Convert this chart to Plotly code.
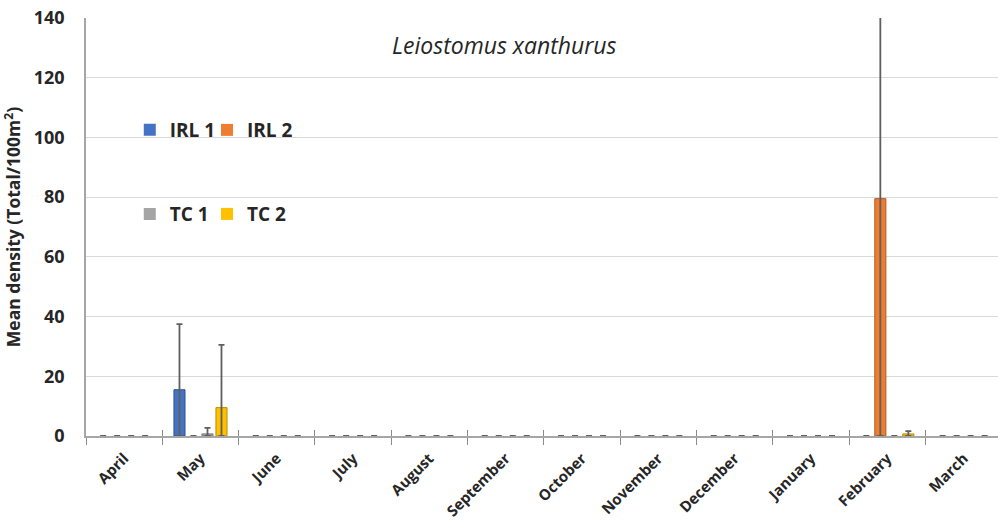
import plotly.graph_objects as go

months = ["April", "May", "June", "July", "August", "September", "October",
          "November", "December", "January", "February", "March"]

irl1 = [0, 15.5, 0, 0, 0, 0, 0, 0, 0, 0, 0, 0]
irl1_err = [0, 22, 0, 0, 0, 0, 0, 0, 0, 0, 0, 0]
irl2 = [0, 0, 0, 0, 0, 0, 0, 0, 0, 0, 79.5, 0]
irl2_err = [0, 0, 0, 0, 0, 0, 0, 0, 0, 0, 100, 0]
tc1 = [0, 0.7, 0, 0, 0, 0, 0, 0, 0, 0, 0, 0]
tc1_err = [0, 2.0, 0, 0, 0, 0, 0, 0, 0, 0, 0, 0]
tc2 = [0, 9.5, 0, 0, 0, 0, 0, 0, 0, 0, 0.7, 0]
tc2_err = [0, 21, 0, 0, 0, 0, 0, 0, 0, 0, 0.9, 0]

series = [
    ("IRL 1", irl1, irl1_err, "#4472C4", "#2F528F", "legend"),
    ("IRL 2", irl2, irl2_err, "#ED7D31", "#AE5A21", "legend2"),
    ("TC 1", tc1, tc1_err, "#A5A5A5", "#787878", "legend3"),
    ("TC 2", tc2, tc2_err, "#FFC000", "#BC8C00", "legend4"),
]

FONT = "Open Sans"
TXT = "#262626"
fig = go.Figure()
for name, vals, err, col, edge, leg in series:
    fig.add_trace(go.Bar(
        name=name, x=months, y=vals,
        marker=dict(color=col,
                    line=dict(color=edge, width=[1 if v > 0 else 0 for v in vals])),
        error_y=dict(type="data", symmetric=False, array=err, arrayminus=vals,
                     color="#5f5f5f", thickness=1.8, width=3),
        legend=leg,
    ))

legfont = dict(size=19, family=FONT, color=TXT, weight="bold")


def leg(x, y):
    return dict(orientation="h", x=x, y=y, xanchor="left", yanchor="middle",
                font=legfont, bgcolor="rgba(0,0,0,0)")


fig.update_layout(
    width=998, height=523,
    margin=dict(l=86, r=0, t=18, b=87),
    paper_bgcolor="white", plot_bgcolor="white",
    barmode="group", bargap=0.266, bargroupgap=0.21,
    font=dict(family=FONT, color=TXT),
    legend=leg(0.048, 0.732),
    legend2=leg(0.1327, 0.732),
    legend3=leg(0.048, 0.531),
    legend4=leg(0.1327, 0.531),
    xaxis=dict(type="category", categoryorder="array", categoryarray=months,
               range=[-0.5, 11.45], tickangle=-45, automargin=False,
               tickfont=dict(size=15, family=FONT, color=TXT, weight="bold"),
               ticks="outside", tickson="boundaries", ticklen=7, tickcolor="#8c8c8c",
               ticklabelstandoff=6,
               showline=True, linecolor="#a6a6a6", linewidth=1.5,
               showgrid=False),
    xaxis2=dict(overlaying="x", anchor="y", side="bottom", range=[-0.5, 11.45],
                tickmode="array", tickvals=[i - 0.5 for i in range(13)],
                ticks="inside", ticklen=6, tickcolor="#8c8c8c",
                showticklabels=False, showgrid=False, showline=False, zeroline=False),
    yaxis=dict(range=[0, 140], tickvals=[0, 20, 40, 60, 80, 100, 120, 140],
               tickfont=dict(size=18, family=FONT, color=TXT, weight="bold"),
               showgrid=True, gridcolor="#d9d9d9", gridwidth=1,
               showline=True, linecolor="#a6a6a6", linewidth=1.5,
               zeroline=False, ticks="outside", ticklen=0, ticklabelstandoff=16,
               title=dict(text="Mean density (Total/100m<sup>2</sup>)",
                          font=dict(size=17.5, family=FONT, color=TXT, weight="bold"),
                          standoff=12)),
    annotations=[dict(text="<i>Leiostomus xanthurus</i>", xref="paper", yref="paper",
                      x=0.459, y=0.935, xanchor="center", yanchor="middle",
                      showarrow=False,
                      font=dict(size=23, family=FONT, color=TXT))],
)
fig.add_trace(go.Scatter(x=[None], y=[None], xaxis="x2", showlegend=False, hoverinfo="skip"))

fig.write_html("out.html")
